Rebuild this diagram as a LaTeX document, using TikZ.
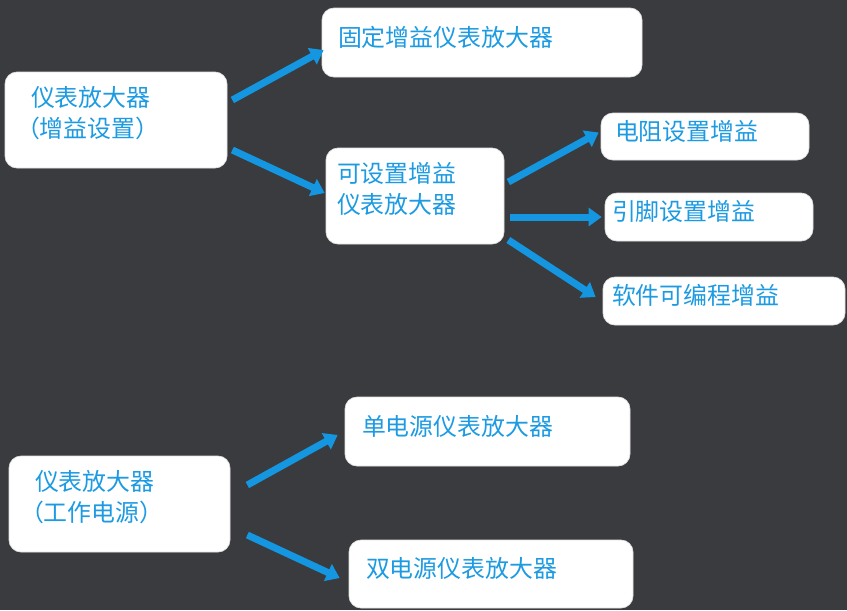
\documentclass[tikz,border=0pt]{standalone}
\usepackage{fontspec}
\setmainfont{Noto Sans CJK SC}
\usetikzlibrary{arrows.meta}
\definecolor{bgdark}{HTML}{3A3B3F}
\definecolor{txtblue}{HTML}{1C9AE2}
\definecolor{arrblue}{HTML}{1496E0}
\begin{document}
\begin{tikzpicture}[
  every node/.style={font=\fontsize{13.6}{17.6}\selectfont, align=left},
  box/.style={rectangle, draw=white!88!black, fill=white, rounded corners=0.24cm,
              text=txtblue, inner sep=0pt, text depth=0.25cm},
  tall/.style={text depth=0.95cm},
  flow/.style={draw=arrblue, line width=0.14cm,
               -{Triangle[length=0.26cm, width=0.36cm]}}
]
  % Background
  \fill[bgdark] (0,0) rectangle (16.94,-12.2);
  \useasboundingbox (0,0) rectangle (16.94,-12.2);

  % Gain setting tree
  \node[box, tall, minimum width=4.44cm, minimum height=1.92cm, text width=3.40cm]
    (gain) at (2.32,-2.40) {仪表放大器\\\hspace*{-0.30cm}（增益设置）};
  \node[box, minimum width=6.40cm, minimum height=1.38cm, text width=5.76cm]
    (fixed) at (9.64,-0.85) {固定增益仪表放大器};
  \node[box, tall, minimum width=3.56cm, minimum height=1.92cm, text width=3.12cm]
    (settable) at (8.30,-3.92) {可设置增益\\仪表放大器};

  % Ways to set the gain
  \node[box, minimum width=4.16cm, minimum height=0.94cm, text width=3.60cm]
    (resistor) at (14.10,-2.73) {电阻设置增益};
  \node[box, minimum width=4.16cm, minimum height=0.96cm, text width=3.88cm]
    (pin) at (14.18,-4.34) {引脚设置增益};
  \node[box, minimum width=4.84cm, minimum height=0.96cm, text width=4.48cm]
    (software) at (14.48,-6.02) {软件可编程增益};

  % Power supply tree
  \node[box, tall, minimum width=4.42cm, minimum height=1.92cm, text width=3.38cm]
    (power) at (2.39,-10.08) {仪表放大器\\\hspace*{-0.30cm}（工作电源）};
  \node[box, minimum width=5.70cm, minimum height=1.38cm, text width=5.02cm]
    (single) at (9.75,-8.63) {单电源仪表放大器};
  \node[box, minimum width=5.68cm, minimum height=1.36cm, text width=5.00cm]
    (dual) at (9.82,-11.48) {双电源仪表放大器};

  % Arrows
  \draw[flow] ([xshift=0.10cm, yshift=0.40cm]gain.east)
    -- ([xshift=0.04cm, yshift=-0.15cm]fixed.west);
  \draw[flow] ([xshift=0.10cm, yshift=-0.60cm]gain.east)
    -- ([xshift=-0.02cm, yshift=0.06cm]settable.west);
  \draw[flow] ([xshift=0.08cm, yshift=0.28cm]settable.east)
    -- ([xshift=-0.04cm, yshift=0.08cm]resistor.west);
  \draw[flow] ([xshift=0.12cm, yshift=-0.42cm]settable.east)
    -- ([xshift=-0.06cm]pin.west);
  \draw[flow] ([xshift=0.08cm, yshift=-0.88cm]settable.east)
    -- ([xshift=-0.14cm, yshift=0.08cm]software.west);
  \draw[flow] ([xshift=0.34cm, yshift=0.38cm]power.east)
    -- ([xshift=-0.14cm, yshift=-0.07cm]single.west);
  \draw[flow] ([xshift=0.34cm, yshift=-0.62cm]power.east)
    -- ([xshift=-0.18cm, yshift=-0.08cm]dual.west);
\end{tikzpicture}
\end{document}
